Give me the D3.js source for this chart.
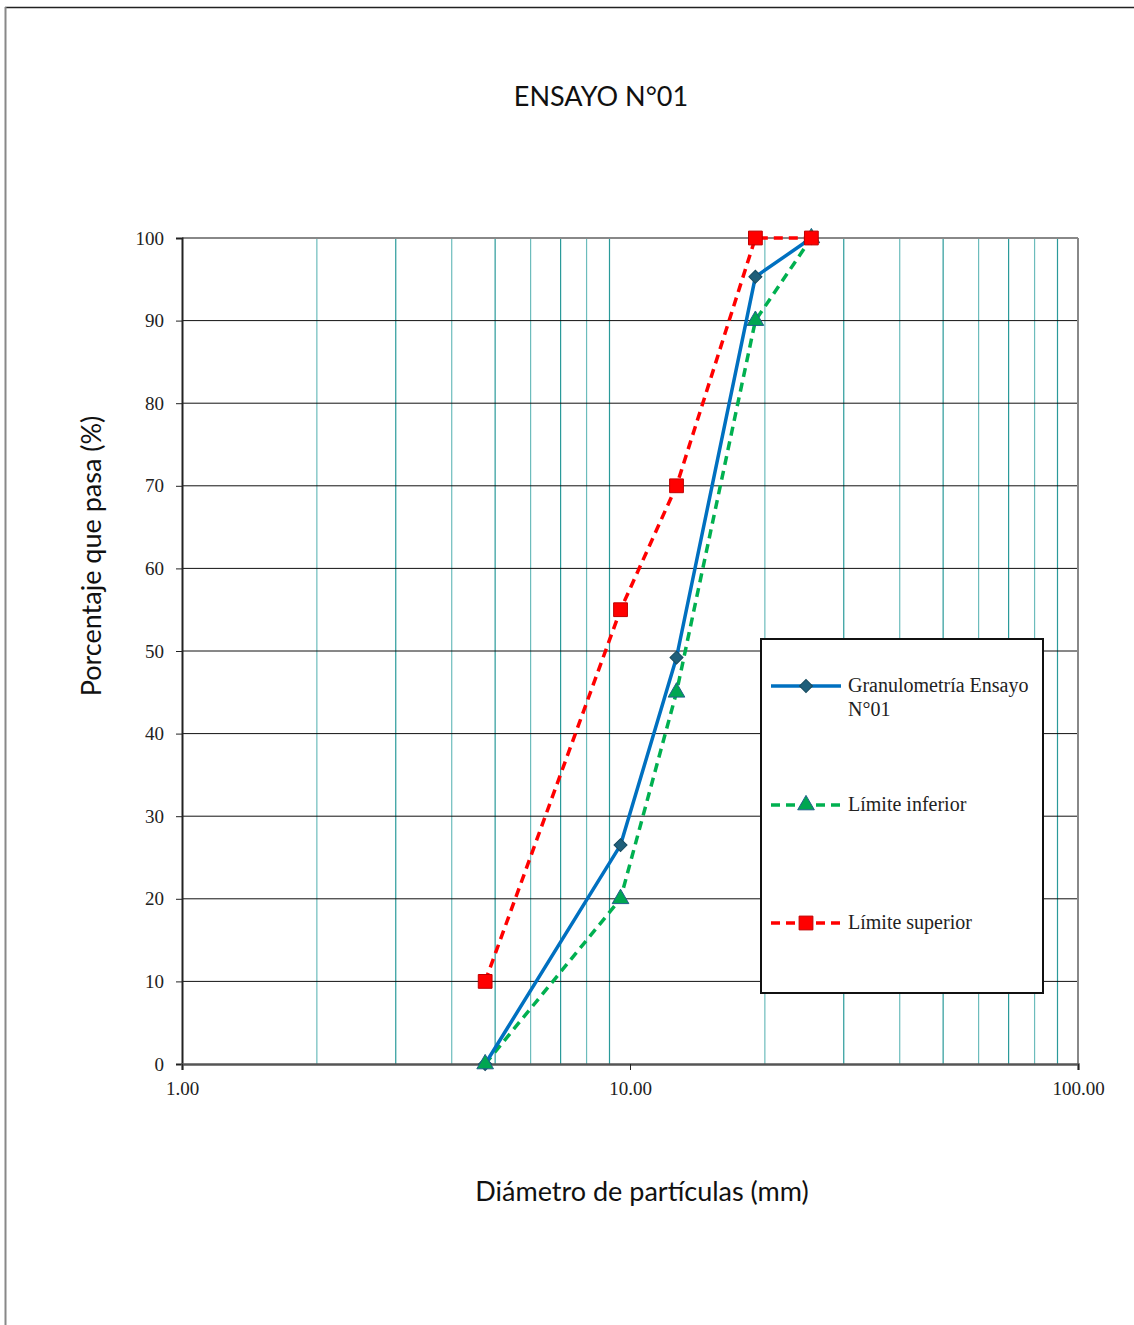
<!DOCTYPE html>
<html>
<head>
<meta charset="utf-8">
<script src="https://cdn.jsdelivr.net/npm/d3@7"></script>
<style>
  body { margin: 0; background: #fff; }
</style>
</head>
<body>
<div id="graphics"></div>
<script>
// sieve sizes (mm) and % passing
const sizes = [4.75, 9.525, 12.7, 19.05, 25.4];
const granulometria = [0, 26.5, 49.2, 95.3, 100];
const limiteInferior = [0, 20, 45, 90, 100];
const limiteSuperior = [10, 55, 70, 100, 100];
const yTicks = [0, 10, 20, 30, 40, 50, 60, 70, 80, 90, 100];
const xTicks = [1, 10, 100];
const xGrid = [2, 3, 4, 5, 6, 7, 8, 9, 20, 30, 40, 50, 60, 70, 80, 90];

const W = 1134, H = 1325;
const margin = { top: 238, left: 182, right: 56, bottom: 261 };
const width = W - margin.left - margin.right;
const height = H - margin.top - margin.bottom;
const serif = '"Liberation Serif", "DejaVu Serif", serif';
const sans = 'Lato, "Open Sans", sans-serif';

const root = d3.select('#graphics').append('svg')
  .attr('width', W).attr('height', H);

// outer frame
root.append('line').attr('x1', 5).attr('x2', W).attr('y1', 7.5).attr('y2', 7.5)
  .attr('stroke', '#222').attr('stroke-width', 1.5);
root.append('line').attr('x1', 5.5).attr('x2', 5.5).attr('y1', 7).attr('y2', H)
  .attr('stroke', '#888').attr('stroke-width', 2);

root.append('text').text('ENSAYO N°01')
  .attr('x', 601).attr('y', 106).attr('text-anchor', 'middle')
  .attr('font-family', sans).attr('font-size', 27).attr('fill', '#111');

root.append('text').text('Diámetro de partículas (mm)')
  .attr('x', 642).attr('y', 1201).attr('text-anchor', 'middle')
  .attr('font-family', sans).attr('font-size', 27).attr('fill', '#111');

root.append('text').text('Porcentaje que pasa (%)')
  .attr('transform', 'translate(101,556) rotate(-90)').attr('text-anchor', 'middle')
  .attr('font-family', sans).attr('font-size', 27).attr('fill', '#111');

const svg = root.append('g')
  .attr('transform', 'translate(' + margin.left + ',' + margin.top + ')');

const x = d3.scaleLog().domain([1, 100]).range([0, width]);
const y = d3.scaleLinear().domain([0, 100]).range([height, 0]);

// vertical grid
svg.selectAll('.vgrid').data(xGrid).enter().append('line')
  .attr('class', 'vgrid')
  .attr('x1', d => x(d)).attr('x2', d => x(d))
  .attr('y1', 0).attr('y2', height)
  .attr('stroke', (d, i) => i % 2 ? '#2a9a9a' : '#6cbcbc').attr('stroke-width', 1.2);

// horizontal grid
svg.selectAll('.hgrid').data(yTicks.slice(1, -1)).enter().append('line')
  .attr('class', 'hgrid')
  .attr('x1', 0).attr('x2', width)
  .attr('y1', d => y(d)).attr('y2', d => y(d))
  .attr('stroke', '#111').attr('stroke-width', 1);

// plot borders
svg.append('line').attr('x1', 0).attr('x2', width).attr('y1', 0).attr('y2', 0)
  .attr('stroke', '#888').attr('stroke-width', 2);
svg.append('line').attr('x1', width).attr('x2', width).attr('y1', 0).attr('y2', height)
  .attr('stroke', '#888').attr('stroke-width', 2);

// axes
const yAxis = svg.append('g')
  .call(d3.axisLeft(y).tickValues(yTicks).tickSize(6).tickPadding(12).tickFormat(d3.format('d')));
yAxis.select('.domain').attr('stroke', '#222').attr('stroke-width', 2);
yAxis.selectAll('.tick line').attr('stroke', '#222');
yAxis.selectAll('.tick text').attr('font-family', serif).attr('font-size', 19).attr('fill', '#222');

const xAxis = svg.append('g').attr('transform', 'translate(0,' + height + ')')
  .call(d3.axisBottom(x).tickValues(xTicks).tickSize(6).tickPadding(12).tickFormat(d3.format('.2f')));
xAxis.select('.domain').attr('stroke', '#555').attr('stroke-width', 2.5);
xAxis.selectAll('.tick line').attr('stroke', '#222');
xAxis.selectAll('.tick text').attr('font-family', serif).attr('font-size', 19).attr('fill', '#222');

const diamond = d3.symbol().type(d3.symbolSquare).size(85);
const series = [
  { name: 'gran', values: granulometria, color: '#0070c0', dash: null, sym: diamond, rot: 45, fill: '#1f5f7a', stroke: '#174a5e' },
  { name: 'lower', values: limiteInferior, color: '#00b050', dash: '9,6', sym: d3.symbol().type(d3.symbolTriangle).size(120), rot: 0, fill: '#00a651', stroke: '#1f5f8b' },
  { name: 'upper', values: limiteSuperior, color: '#ff0000', dash: '9,6', sym: d3.symbol().type(d3.symbolSquare).size(190), rot: 0, fill: '#ff0000', stroke: '#c00000' }
];

const line = d3.line().x(d => x(d[0])).y(d => y(d[1]));

// lines first, then markers (upper markers on top)
[series[1], series[2], series[0]].forEach(s => {
  const pts = sizes.map((v, i) => [v, s.values[i]]);
  svg.append('path').datum(pts)
    .attr('d', line)
    .attr('fill', 'none')
    .attr('stroke', s.color)
    .attr('stroke-width', 3.5)
    .attr('stroke-dasharray', s.dash);
});
series.forEach(s => {
  const pts = sizes.map((v, i) => [v, s.values[i]]);
  svg.selectAll('.m-' + s.name).data(pts).enter().append('path')
    .attr('class', 'm-' + s.name)
    .attr('transform', d => 'translate(' + x(d[0]) + ',' + y(d[1]) + ') rotate(' + s.rot + ')')
    .attr('d', s.sym)
    .attr('fill', s.fill).attr('stroke', s.stroke).attr('stroke-width', 1);
});

// legend
const lg = root.append('g').attr('transform', 'translate(761,639)');
lg.append('rect').attr('width', 282).attr('height', 354)
  .attr('fill', '#fff').attr('stroke', '#111').attr('stroke-width', 2);

const legendItems = [
  { s: series[0], lines: ['Granulometría Ensayo', 'N°01'], y: 47 },
  { s: series[1], lines: ['Límite inferior'], y: 166 },
  { s: series[2], lines: ['Límite superior'], y: 284 }
];
legendItems.forEach(item => {
  const g = lg.append('g').attr('transform', 'translate(0,' + item.y + ')');
  g.append('line').attr('x1', 10).attr('x2', 80).attr('y1', 0).attr('y2', 0)
    .attr('stroke', item.s.color).attr('stroke-width', 3.5)
    .attr('stroke-dasharray', item.s.dash ? '9,6' : null);
  g.append('path').attr('transform', 'translate(45,0) rotate(' + item.s.rot + ')')
    .attr('d', item.s.sym)
    .attr('fill', item.s.fill).attr('stroke', item.s.stroke);
  item.lines.forEach((t, i) => {
    g.append('text').text(t)
      .attr('x', 87).attr('y', 6 + i * 24)
      .attr('font-family', serif)
      .attr('font-size', 20).attr('fill', '#222');
  });
});
</script>
</body>
</html>
